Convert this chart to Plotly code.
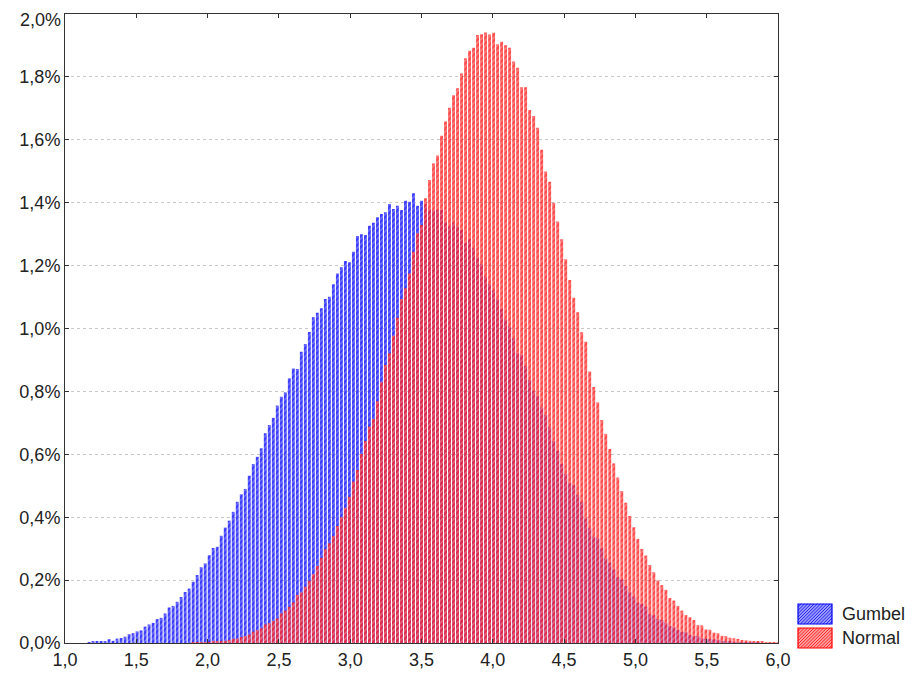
import plotly.graph_objects as go

# Histogram bins (shared grid)
bin_start = 1.1685      # centre of first bin
bin_width = 0.02809     # bin width
red_offset = 26         # index of first Normal bin on the shared grid

# Relative frequency (%) per bin
gumbel = [
    0.003, 0.004, 0.005, 0.005, 0.006, 0.012, 0.007, 0.014, 0.016, 0.020,
    0.028, 0.031, 0.037, 0.040, 0.052, 0.059, 0.064, 0.076, 0.080, 0.094,
    0.113, 0.118, 0.131, 0.146, 0.162, 0.173, 0.195, 0.216, 0.241, 0.253,
    0.279, 0.302, 0.306, 0.341, 0.367, 0.389, 0.417, 0.449, 0.473, 0.490,
    0.532,
    0.569, 0.592, 0.619, 0.667, 0.693, 0.716, 0.755, 0.783, 0.797, 0.842,
    0.873, 0.871, 0.926, 0.951, 0.989, 1.036, 1.050, 1.064, 1.094, 1.101,
    1.141, 1.175, 1.195, 1.215, 1.211, 1.244, 1.294, 1.300, 1.297, 1.327,
    1.336, 1.354, 1.364, 1.370, 1.396, 1.380, 1.390, 1.377, 1.406, 1.403,
    1.430, 1.390, 1.406, 1.395, 1.379, 1.375, 1.377, 1.377, 1.338, 1.324,
    1.336, 1.324, 1.313, 1.271, 1.284, 1.255, 1.226, 1.205, 1.165, 1.141,
    1.122, 1.093, 1.062, 1.029, 1.006, 0.969, 0.921, 0.916, 0.881, 0.836,
    0.802, 0.785, 0.749, 0.725, 0.686, 0.642, 0.611, 0.569, 0.537,
    0.508, 0.502, 0.471, 0.449, 0.396, 0.365, 0.338, 0.333, 0.301, 0.269,
    0.255, 0.234, 0.209, 0.202, 0.181, 0.161, 0.147, 0.128, 0.124, 0.115,
    0.091, 0.088, 0.076, 0.073, 0.063, 0.054, 0.050, 0.041, 0.035, 0.034,
    0.025, 0.022, 0.022, 0.015, 0.014, 0.012, 0.012, 0.009, 0.007, 0.005,
    0.004, 0.003, 0.002, 0.001, 0.001, 0.001, 0.001, 0.0005,
]

normal = [
    0.001, 0.001, 0.0015, 0.002, 0.003, 0.004, 0.005, 0.006, 0.007, 0.010,
    0.013, 0.014, 0.019, 0.022, 0.027,
    0.036, 0.041, 0.047, 0.059, 0.063, 0.070, 0.078, 0.094, 0.103, 0.115,
    0.129, 0.153, 0.161, 0.179, 0.198, 0.219, 0.245, 0.271, 0.298, 0.317,
    0.340, 0.372, 0.400, 0.430, 0.465, 0.513, 0.550,
    0.601, 0.642, 0.688, 0.712, 0.769, 0.829, 0.884, 0.921, 0.977, 1.034,
    1.094, 1.128, 1.175, 1.244, 1.303, 1.329, 1.414,
    1.472, 1.525, 1.550, 1.613, 1.658, 1.702, 1.742, 1.764, 1.811, 1.859,
    1.883, 1.893, 1.933, 1.936, 1.941, 1.935, 1.940, 1.904, 1.912,
    1.901, 1.893, 1.849, 1.829, 1.767, 1.767, 1.695, 1.676, 1.638, 1.568,
    1.499, 1.467, 1.400, 1.340,
    1.284, 1.220, 1.154, 1.098, 1.052, 0.988, 0.958, 0.863, 0.814, 0.765,
    0.709, 0.665, 0.617, 0.571, 0.526, 0.483, 0.446, 0.404, 0.368, 0.331,
    0.299, 0.278, 0.248, 0.225, 0.199, 0.184, 0.169, 0.143, 0.135, 0.118,
    0.103, 0.089, 0.082, 0.073, 0.057, 0.056, 0.043, 0.042, 0.033, 0.031,
    0.023, 0.022, 0.017, 0.015, 0.013, 0.0095, 0.0086, 0.007, 0.005, 0.004,
    0.004, 0.003, 0.003, 0.002, 0.002,
]

series_names = ["Gumbel", "Normal"]
x_ticks = [1.0, 1.5, 2.0, 2.5, 3.0, 3.5, 4.0, 4.5, 5.0, 5.5, 6.0]
x_tick_labels = ["1,0", "1,5", "2,0", "2,5", "3,0", "3,5", "4,0", "4,5", "5,0", "5,5", "6,0"]
y_ticks = [0.0, 0.2, 0.4, 0.6, 0.8, 1.0, 1.2, 1.4, 1.6, 1.8, 2.0]
y_tick_labels = ["0,0%", "0,2%", "0,4%", "0,6%", "0,8%", "1,0%", "1,2%", "1,4%", "1,6%", "1,8%", "2,0%"]

x_gumbel = [bin_start + i * bin_width for i in range(len(gumbel))]
x_normal = [bin_start + (i + red_offset) * bin_width for i in range(len(normal))]

bar_w = bin_width * 0.72

BLUE_BG, BLUE_FG, BLUE_EDGE = "#3c3cff", "#c0c0ff", "#0000ee"
RED_BG, RED_FG, RED_EDGE = "#ff2a2a", "#ffc0c0", "#ff0000"
TEXT = "#222"
FONT = "Liberation Sans, Arial, sans-serif"

fig = go.Figure()
fig.add_trace(go.Bar(
    x=x_gumbel, y=gumbel, name=series_names[0], width=bar_w,
    marker=dict(color=BLUE_BG, line=dict(width=0),
                pattern=dict(shape="/", fgcolor=BLUE_FG, bgcolor=BLUE_BG,
                             size=4, solidity=0.3)),
    showlegend=False,
))
fig.add_trace(go.Bar(
    x=x_normal, y=normal, name=series_names[1], width=bar_w,
    opacity=0.84,
    marker=dict(color=RED_BG, line=dict(width=0),
                pattern=dict(shape="/", fgcolor=RED_FG, bgcolor=RED_BG,
                             size=4, solidity=0.3)),
    showlegend=False,
))

# The page body adds an 8px offset; the figure is sized so that the plot
# area lands at (65..778, 14..643) in the 917x682 window.
OFF = 8
W, H = 917 - OFF, 682 - OFF
L, R, T, B = 65 - OFF, 778 - OFF, 14 - OFF, 643 - OFF


def px2paper(px, py):
    """window pixel -> paper coordinates"""
    return (px - OFF - L) / (R - L), (B - (py - OFF)) / (B - T)


def swatch(x0, y0, x1, y1, fill, edge):
    ax0, ay0 = px2paper(x0, y1)
    ax1, ay1 = px2paper(x1, y0)
    fig.add_shape(type="rect", xref="paper", yref="paper",
                  x0=ax0, y0=ay0, x1=ax1, y1=ay1,
                  fillcolor=fill, line=dict(color=edge, width=1.2), layer="above")
    segs = []
    step = 3.2
    k = -(y1 - y0)
    while k < (x1 - x0):
        sx, sy = x0 + k, y1
        ex, ey = x0 + k + (y1 - y0), y0
        if sx < x0:
            sy = y1 - (x0 - sx)
            sx = x0
        if ex > x1:
            ey = y0 + (ex - x1)
            ex = x1
        if sx < ex:
            a = px2paper(sx, sy)
            b = px2paper(ex, ey)
            segs.append(f"M{a[0]:.5f},{a[1]:.5f}L{b[0]:.5f},{b[1]:.5f}")
        k += step
    fig.add_shape(type="path", xref="paper", yref="paper", path="".join(segs),
                  line=dict(color=edge, width=0.8), layer="above")


swatch(798, 604, 832, 624, "#9c9cff", BLUE_EDGE)
swatch(798, 628, 832, 648, "#ffa0a0", RED_EDGE)
for name, cy in zip(series_names, [614, 638]):
    ax, ay = px2paper(840, cy)
    fig.add_annotation(x=ax, y=ay, xref="paper", yref="paper", text=name,
                       showarrow=False, xanchor="left", yanchor="middle",
                       font=dict(size=18, color=TEXT, family=FONT))

# Top y label drawn as an annotation so that it stays inside the page
ax, ay = px2paper(65, 8.5)
fig.add_annotation(x=0, y=ay, xref="paper", yref="paper", text=y_tick_labels[-1],
                   showarrow=False, xanchor="right", yanchor="top", xshift=-3,
                   borderpad=0, font=dict(size=18, color=TEXT, family=FONT))
axis_tick_text = y_tick_labels[:-1] + [""]

fig.update_layout(
    width=W, height=H,
    margin=dict(l=L, r=W - R, t=T, b=H - B, autoexpand=False),
    paper_bgcolor="white", plot_bgcolor="white",
    barmode="overlay",
    font=dict(family=FONT, size=18, color=TEXT),
    showlegend=False,
)
fig.update_xaxes(
    range=[1.0, 6.0], tickvals=x_ticks, ticktext=x_tick_labels,
    showgrid=False, zeroline=False, ticklabeloverflow="allow",
    showline=True, linecolor="#333", linewidth=1, mirror="ticks",
    ticks="inside", ticklen=4, tickcolor="#333",
)
fig.update_yaxes(
    range=[0.0, 2.0], tickvals=y_ticks, ticktext=axis_tick_text,
    showgrid=True, gridcolor="#c8c8c8", griddash="dot", gridwidth=1,
    zeroline=False, ticklabeloverflow="allow",
    showline=True, linecolor="#333", linewidth=1, mirror="ticks",
    ticks="inside", ticklen=4, tickcolor="#333",
)

fig.write_html("out.html")
